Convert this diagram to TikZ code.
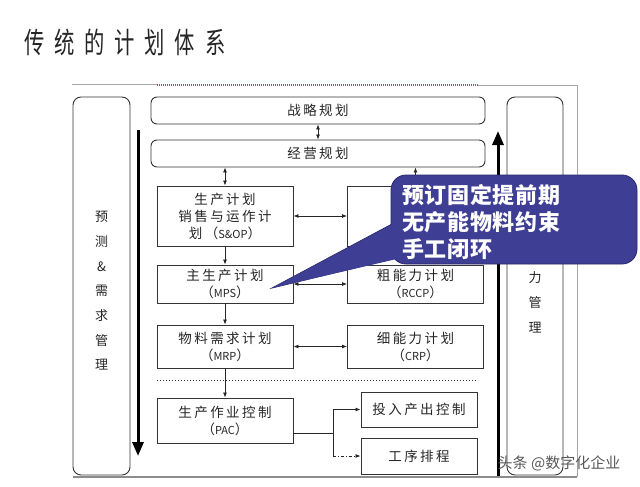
\documentclass[tikz,border=0pt]{standalone}
\usepackage{fontspec}
\setmainfont{Noto Sans CJK SC}
\newfontfamily\boxfont[LetterSpace=18]{Noto Sans CJK SC}
\newfontfamily\latinfont{Noto Sans CJK SC}
\newfontfamily\callfont[LetterSpace=3]{Noto Sans CJK SC}
\newfontfamily\titlefont[FakeStretch=0.7,LetterSpace=34]{Noto Sans CJK SC}
\usetikzlibrary{arrows.meta}
\definecolor{calloutblue}{RGB}{62,62,148}
\definecolor{calloutedge}{RGB}{40,40,105}
\definecolor{dotred}{RGB}{160,80,100}
\newcommand\abbr[1]{（{\latinfont\fontsize{11}{11}\selectfont #1}）}

\begin{document}
\begin{tikzpicture}[x=1pt,y=-1pt,
    box/.style={draw=black!80, line width=0.9pt, align=center, text=black!85,
      font=\boxfont\fontsize{13.5}{17}\selectfont, inner sep=0pt},
    wide/.style={box, rounded corners=6pt, minimum width=334pt, minimum height=27pt},
    col/.style={box, rounded corners=8pt, minimum width=57pt, minimum height=378pt},
    coltext/.style={align=center, text=black!85, font=\boxfont\fontsize{13}{24.7}\selectfont},
    dbl/.style={black!85, line width=0.8pt, {Latex[length=5pt,width=4pt]}-{Latex[length=5pt,width=4pt]}},
    one/.style={black!85, line width=0.8pt, -{Latex[length=5pt,width=4pt]}},
    bigarrow/.style={line width=3pt, -{Triangle[length=14pt,width=11pt]}},
    bubble/.style={fill=calloutblue, draw=calloutedge, line width=0.8pt,
      rounded corners=15pt, minimum width=246pt, minimum height=89pt}]
    \fill[white] (0,0) rectangle (640,487);
    \useasboundingbox (0,0) rectangle (640,487);

    % title and frame
    \node[anchor=west, inner sep=0pt, text=black!85, font=\titlefont\fontsize{29}{29}\selectfont]
      (title) at (24,42) {传统的计划体系};
    \draw[black!35, line width=0.7pt] (72,84) -- (157,84);
    \draw[dotred, line width=1.3pt, dash pattern=on 1pt off 1pt] (157,85) -- (478,85);
    \draw[black!35, line width=0.7pt] (478,85) -- (577,85) -- (577,477);
    \draw[black!45, line width=2pt] (73,477) -- (577,477);

    % side columns
    \node[col] (fcst) at (101.5,286) {};
    \node[coltext] (fcstlbl) at (101.5,291) {预\\测\\\&\\需\\求\\管\\理};
    \node[col, minimum width=56pt] (capm) at (535,286) {};
    \node[coltext] (capmlbl) at (535,302.5) {力\\管\\理};

    % planning levels
    \node[wide] (strat) at (318,110.5) {战略规划};
    \node[wide] (biz) at (318,153.5) {经营规划};
    \foreach \nm/\cx/\cy/\hgt/\txt in {
        sop/225/216/60/{生产计划\\销售与运作计\\划\abbr{S\&OP}},
        res/415.5/216/60/{},
        mps/225/284/38/{主生产计划\\\abbr{MPS}},
        rccp/415.5/284/38/{粗能力计划\\\abbr{RCCP}},
        mrp/225/346.5/43/{物料需求计划\\\abbr{MRP}},
        crp/415.5/346.5/43/{细能力计划\\\abbr{CRP}},
        pac/225/420.5/45/{生产作业控制\\\abbr{PAC}}} {
      \node[box, minimum width=136pt, minimum height=\hgt pt] (\nm) at (\cx,\cy) {\txt};
    }
    \node[box, minimum width=116pt, minimum height=35pt] (ioc) at (419,409.5) {投入产出控制};
    \node[box, minimum width=116pt, minimum height=36pt] (seq) at (419,456) {工序排程};

    \draw[dotted, line width=1pt, black!80] (157,380) -- (478,380);

    % connectors
    \draw[dbl] (strat) -- (biz);
    \draw[dbl] (sop.north) -- (sop.north |- biz.south);
    \draw[dbl] (res.north) -- (res.north |- biz.south);
    \draw[dbl] (sop) -- (res);
    \draw[dbl] (mps) -- (rccp);
    \draw[dbl] (mrp) -- (crp);
    \draw[one] (sop) -- (mps);
    \draw[one] (mps) -- (mrp);
    \draw[one] (mrp) -- (pac);
    \coordinate (split) at (333,433);
    \draw[black!85, line width=0.8pt] (pac.east |- split) -- (split) -- (split |- seq.west);
    \draw[one] (split) |- (ioc.west);
    \draw[one, dash dot] (split |- seq.west) -- (seq.west);

    % flow arrows
    \coordinate (ltop) at (138,130);
    \coordinate (lbot) at (138,456);
    \draw[bigarrow] (ltop) -- (lbot);
    \coordinate (rbot) at (498,476);
    \coordinate (rtop) at (498,131);
    \draw[bigarrow] (rbot) -- (rtop);

    % callout
    \coordinate (tip) at (272,288);
    \filldraw[fill=calloutblue, draw=calloutedge, line width=0.8pt] (tip) -- (392,224) -- (392,259) -- cycle;
    \node[bubble] (bubble) at (514,219.5) {};
    \fill[calloutblue] (tip) -- (394.5,223.5) -- (394.5,259.5) -- cycle;
    \node[anchor=west, align=left, inner sep=0pt, text=white,
      font=\callfont\bfseries\fontsize{22}{27}\selectfont] (calltext) at (402,222)
      {预订固定提前期\\无产能物料约束\\手工闭环};

    \node[text=black!65, font=\fontsize{15}{15}\selectfont] (mark) at (559,463) {头条 @数字化企业};
\end{tikzpicture}
\end{document}
